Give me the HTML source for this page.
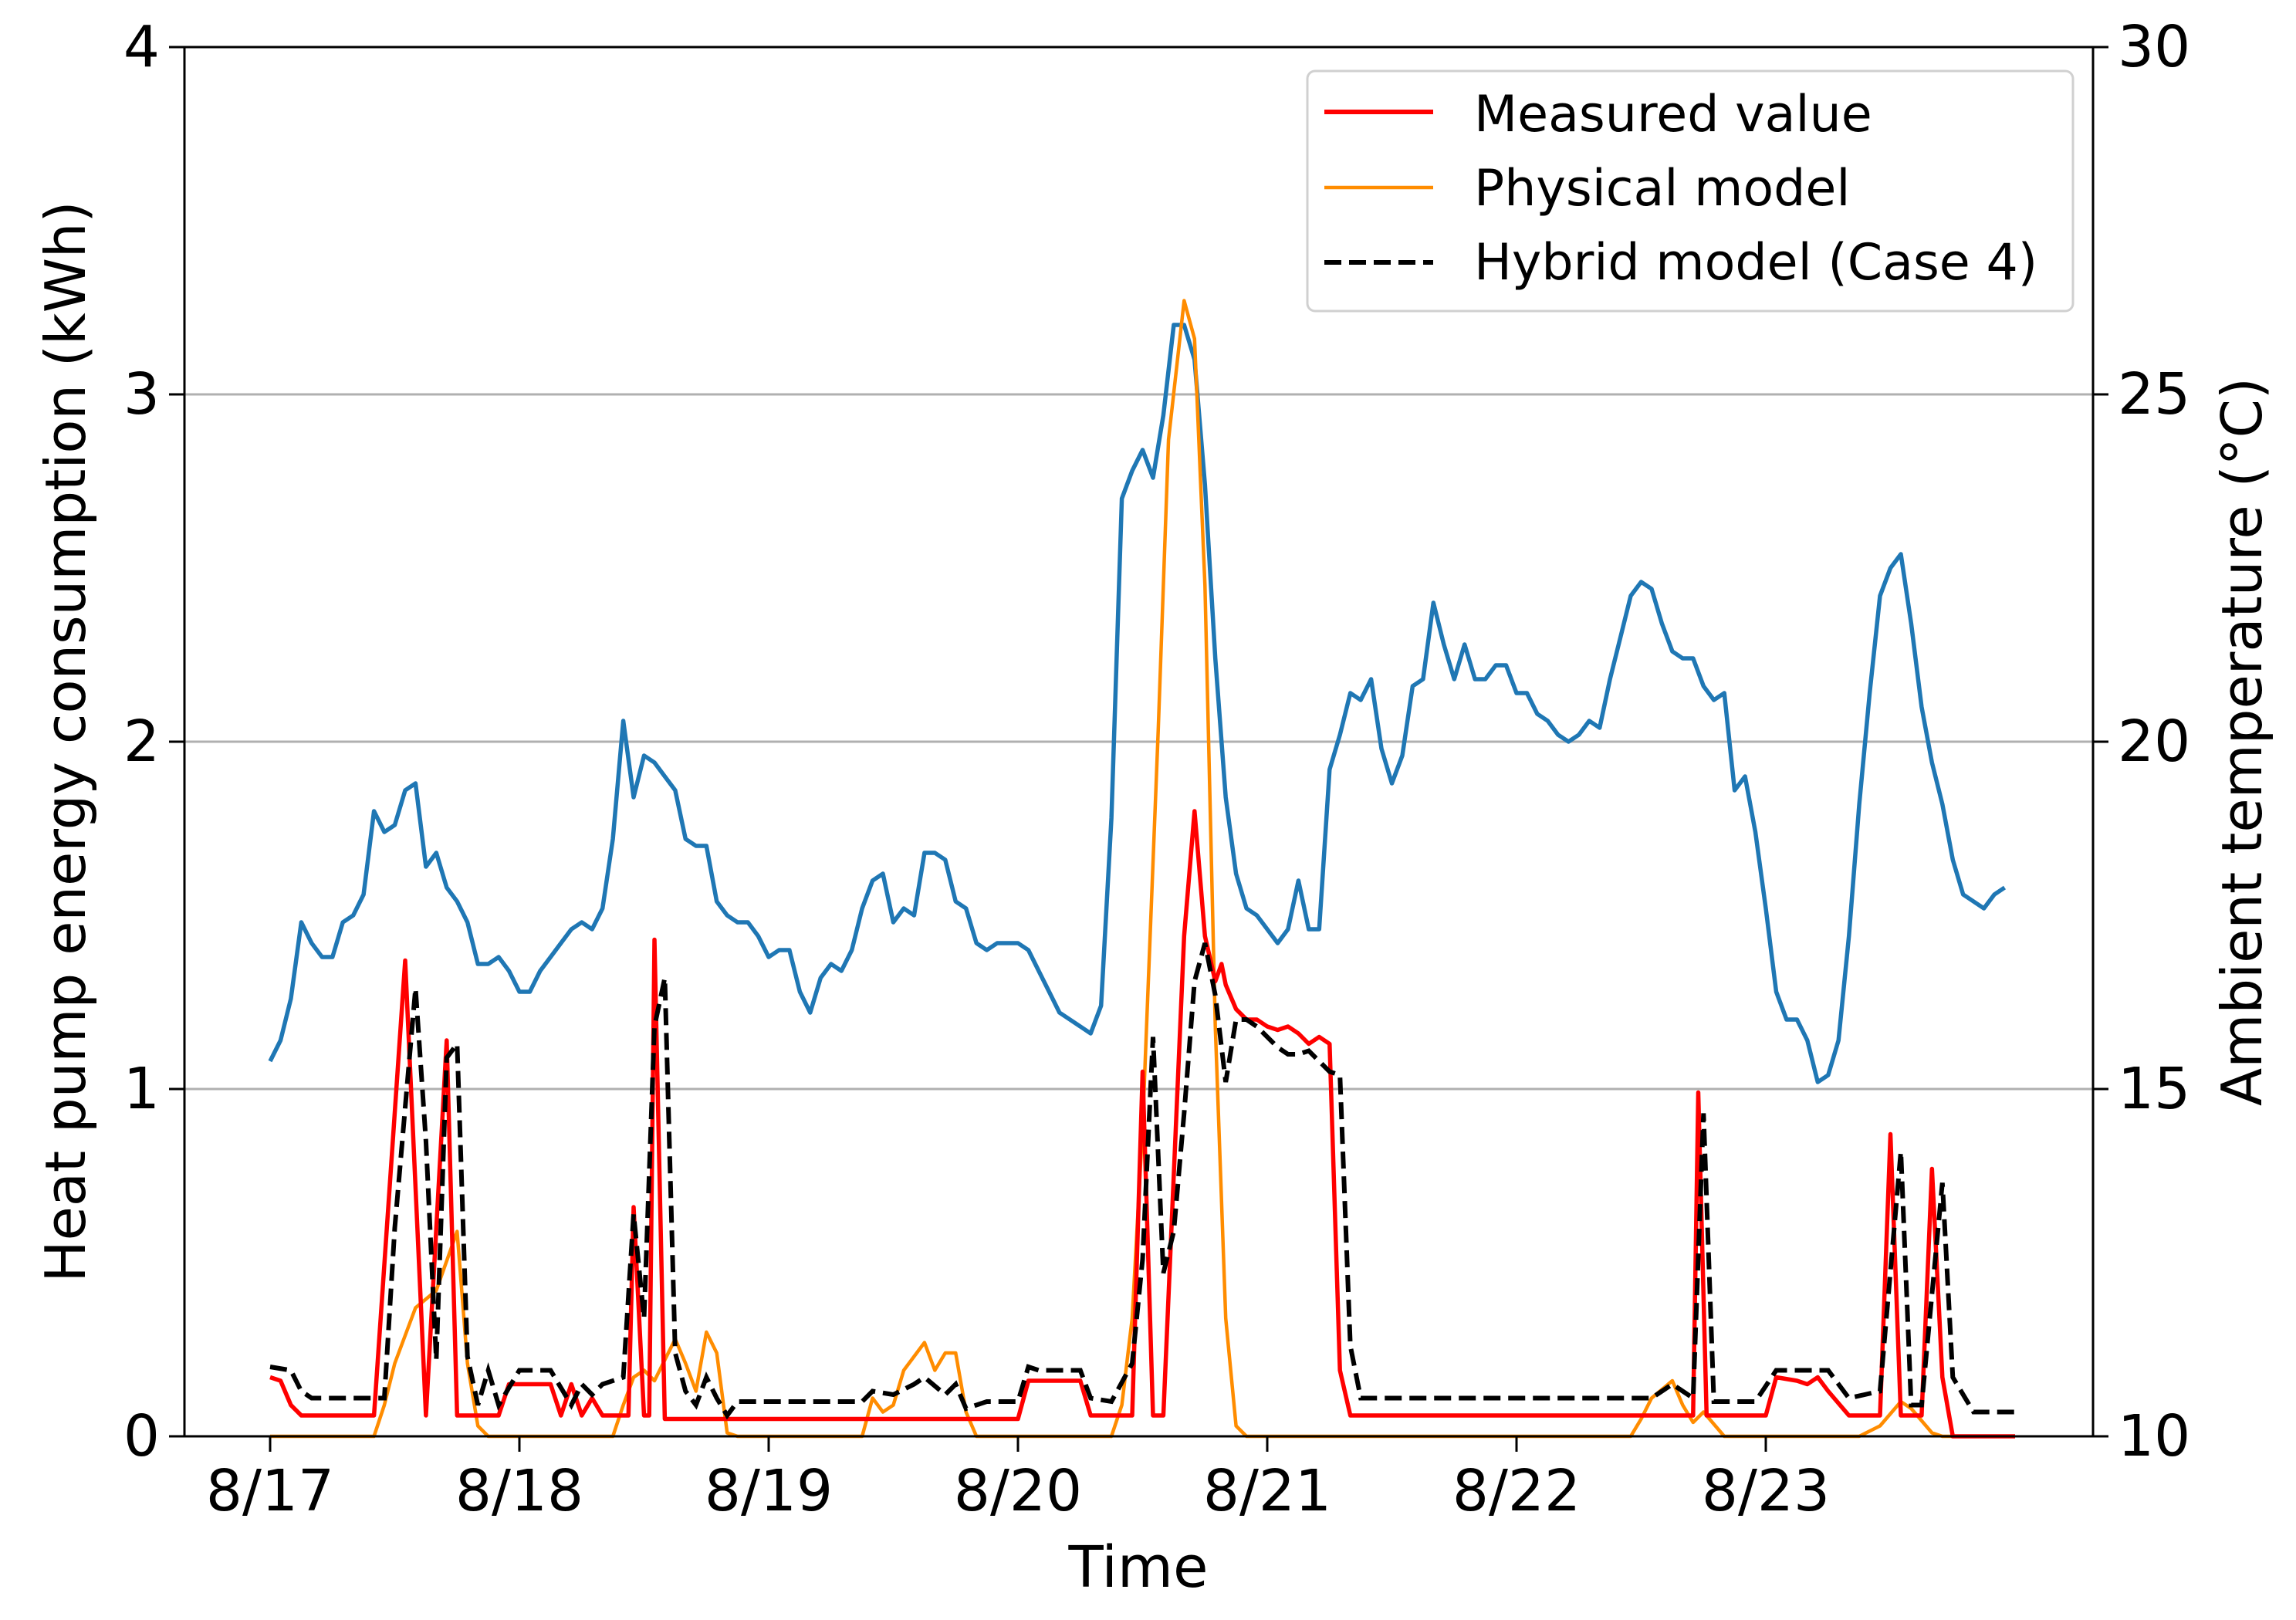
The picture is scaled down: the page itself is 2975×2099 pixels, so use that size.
<!DOCTYPE html>
<html><head><meta charset="utf-8"><style>
html,body{margin:0;padding:0;background:#fff;}
svg{display:block;font-family:"DejaVu Sans","Liberation Sans",sans-serif;}
</style></head><body>
<svg id="chart" width="2975" height="2099" viewBox="0 0 2975 2099" xmlns="http://www.w3.org/2000/svg">
<rect x="0" y="0" width="2975" height="2099" fill="#fff"/>
<g id="grid"></g>
<g id="series"></g>
<g id="axes"></g>
<text x="85" y="961" font-size="72" text-anchor="middle" dominant-baseline="central" transform="rotate(-90 85 961)">Heat pump energy consumption (kWh)</text>
<text x="2905" y="961" font-size="72" text-anchor="middle" dominant-baseline="central" transform="rotate(-90 2905 961)">Ambient temperature (°C)</text>
<text x="1475" y="2056" font-size="74" text-anchor="middle">Time</text>
<g>
<rect x="1694" y="92" width="992" height="311" rx="10" fill="#fff" fill-opacity="0.8" stroke="#d0d0d0" stroke-width="3"/>
<line x1="1716" y1="145" x2="1857" y2="145" stroke="#ff0000" stroke-width="6"/>
<text x="1910" y="170" font-size="65">Measured value</text>
<line x1="1716" y1="243" x2="1857" y2="243" stroke="#ff8c00" stroke-width="4.5"/>
<text x="1910" y="266" font-size="65">Physical model</text>
<line x1="1716" y1="340" x2="1857" y2="340" stroke="#000" stroke-width="6" stroke-dasharray="22,10"/>
<text x="1910" y="362" font-size="65">Hybrid model (Case 4)</text>
</g>
</svg>
<script>
const dayLabels = ["8/17","8/18","8/19","8/20","8/21","8/22","8/23"];
const leftTicks = [0,1,2,3,4];
const rightTicks = [10,15,20,25,30];
const tempValues = [15.4,15.7,16.3,17.4,17.1,16.9,16.9,17.4,17.5,17.8,19.0,18.7,18.8,19.3,19.4,18.2,18.4,17.9,17.7,17.4,16.8,16.8,16.9,16.7,16.4,16.4,16.7,16.9,17.1,17.3,17.4,17.3,17.6,18.6,20.3,19.2,19.8,19.7,19.5,19.3,18.6,18.5,18.5,17.7,17.5,17.4,17.4,17.2,16.9,17.0,17.0,16.4,16.1,16.6,16.8,16.7,17.0,17.6,18.0,18.1,17.4,17.6,17.5,18.4,18.4,18.3,17.7,17.6,17.1,17.0,17.1,17.1,17.1,17.0,16.7,16.4,16.1,16.0,15.9,15.8,16.2,18.9,23.5,23.9,24.2,23.8,24.7,26.0,26.0,25.5,23.7,21.2,19.2,18.1,17.6,17.5,17.3,17.1,17.3,18.0,17.3,17.3,19.6,20.1,20.7,20.6,20.9,19.9,19.4,19.8,20.8,20.9,22.0,21.4,20.9,21.4,20.9,20.9,21.1,21.1,20.7,20.7,20.4,20.3,20.1,20.0,20.1,20.3,20.2,20.9,21.5,22.1,22.3,22.2,21.7,21.3,21.2,21.2,20.8,20.6,20.7,19.3,19.5,18.7,17.6,16.4,16.0,16.0,15.7,15.1,15.2,15.7,17.2,19.1,20.7,22.1,22.5,22.7,21.7,20.5,19.7,19.1,18.3,17.8,17.7,17.6,17.8,17.9];
const measuredHours = [0,1,2,3,10,13,15,17,18,22,23,27,28,29,30,31,32,34.5,35,36,36.5,37,38,72,73,78,79,83,84,85,86,88,89,90,91,91.6,92,93,94,95,96,97,98,99,100,101,102,103,104,137,137.5,138.3,144,145,147,148,149,150,152,155,156,157,159,160,161,162,168];
const measuredValues = [.17,.16,.09,.06,.06,1.37,.06,1.14,.06,.06,.15,.15,.06,.15,.06,.11,.06,.06,.66,.06,.06,1.43,.05,.05,.16,.16,.06,.06,1.05,.06,.06,1.44,1.80,1.44,1.31,1.36,1.30,1.23,1.20,1.20,1.18,1.17,1.18,1.16,1.13,1.15,1.13,.19,.06,.06,.99,.06,.06,.17,.16,.15,.17,.13,.06,.06,.87,.06,.06,.77,.17,0,0];
const physicalHours = [0,10,11,12,14,16,18,19,20,21,33,34,35,36,37,39,40,41,42,43,44,45,57,58,59,60,61,63,64,65,66,67,68,81,82,83,84,85.5,86.5,88,89,90,91,92,93,94,131,132,133,135,136,137,138,140,153,155,157,158,160,161,168];
const physicalValues = [0,0,.09,.21,.37,.42,.59,.21,.03,0,0,.09,.17,.19,.16,.28,.21,.13,.30,.24,.01,0,0,.11,.07,.09,.19,.27,.19,.24,.24,.07,0,0,.09,.34,.89,2.03,2.87,3.27,3.16,2.45,1.18,.34,.03,0,0,.05,.11,.16,.09,.04,.07,0,0,.03,.10,.08,.01,0,0];
const hybridHours = [0,2,3,4,11,12,14,15,16,17,18,19,20,21,22,23,24,27,28,29,30,31,32,34,35,36,37,38,39,40,41,42,43,44,45,57,58,60,62,63,65,66,67,69,72,73,74,78,79,81,83,84,85,86,87,88,89,90,91,92,93,94,95,96,97,98,99,100,101,102,103,104,105,133,135,137,138,139,143,145,150,152,155,157,158,159,161,162,164,168];
const hybridValues = [.20,.19,.13,.11,.11,.60,1.29,.85,.22,1.09,1.13,.23,.09,.19,.09,.14,.19,.19,.14,.09,.15,.12,.15,.17,.64,.34,1.18,1.32,.24,.13,.09,.17,.11,.06,.10,.10,.13,.12,.15,.17,.12,.15,.08,.10,.10,.20,.19,.19,.11,.10,.21,.51,1.15,.47,.59,.93,1.31,1.42,1.27,1.02,1.20,1.20,1.18,1.15,1.12,1.10,1.10,1.11,1.08,1.05,1.04,.26,.11,.11,.15,.11,.93,.10,.10,.19,.19,.11,.13,.82,.09,.09,.73,.17,.07,.07];

const NS = "http://www.w3.org/2000/svg";
const L = 239, R = 2712, T = 61, B = 1861;
const X0 = 350, DAYW = 323;
function xScale(h){ return X0 + h * DAYW / 24; }
function yLeft(v){ return B - v * (B - T) / 4; }
function yRight(t){ return B - (t - 10) * (B - T) / 20; }
function mk(tag, attrs, parent){
  const e = document.createElementNS(NS, tag);
  for (const k in attrs) e.setAttribute(k, attrs[k]);
  parent.appendChild(e);
  return e;
}
const grid = document.getElementById('grid');
const series = document.getElementById('series');
const axes = document.getElementById('axes');

leftTicks.forEach(v => {
  if (v > 0 && v < 4) {
    const g = mk('line', {x1:L, x2:R, y1:yLeft(v), y2:yLeft(v), stroke:'#b0b0b0', 'stroke-width':3}, grid);
    
    
  }
  const tk = mk('line', {x1:L-20, x2:L, y1:yLeft(v), y2:yLeft(v), stroke:'#000', 'stroke-width':3}, axes);
  
  
  const tx = mk('text', {x:L-32, y:yLeft(v), 'font-size':74, 'text-anchor':'end', 'dominant-baseline':'central'}, axes);
  tx.textContent = v;
  
  
});
rightTicks.forEach(t => {
  const tk = mk('line', {x1:R, x2:R+20, y1:yRight(t), y2:yRight(t), stroke:'#000', 'stroke-width':3}, axes);
  
  
  const tx = mk('text', {x:R+32, y:yRight(t), 'font-size':74, 'dominant-baseline':'central'}, axes);
  tx.textContent = t;
  
  
});
dayLabels.forEach((d, i) => {
  const x = xScale(i * 24);
  const tk = mk('line', {x1:x, x2:x, y1:B, y2:B+20, stroke:'#000', 'stroke-width':3}, axes);
  
  
  const tx = mk('text', {x:x, y:1957, 'font-size':74, 'text-anchor':'middle'}, axes);
  tx.textContent = d;
  
  
});
const frame = mk('rect', {x:L, y:T, width:R-L, height:B-T, fill:'none', stroke:'#000', 'stroke-width':3}, axes);



function pathFrom(hours, vals, yf){
  return hours.map((h,i) => (i?'L':'M') + xScale(h).toFixed(1) + ' ' + yf(vals[i]).toFixed(1)).join(' ');
}
const tempHours = tempValues.map((_, i) => i);
const pT = mk('path', {d:pathFrom(tempHours, tempValues, yRight), fill:'none', stroke:'#1f77b4', 'stroke-width':5.5, 'stroke-linejoin':'round'}, series);


const pP = mk('path', {d:pathFrom(physicalHours, physicalValues, yLeft), fill:'none', stroke:'#ff8c00', 'stroke-width':4.5, 'stroke-linejoin':'round'}, series);


const pM = mk('path', {d:pathFrom(measuredHours, measuredValues, yLeft), fill:'none', stroke:'#ff0000', 'stroke-width':5.5, 'stroke-linejoin':'round'}, series);


const pH = mk('path', {d:pathFrom(hybridHours, hybridValues, yLeft), fill:'none', stroke:'#000', 'stroke-width':6, 'stroke-dasharray':'22,10'}, series);


</script>
</body></html>
